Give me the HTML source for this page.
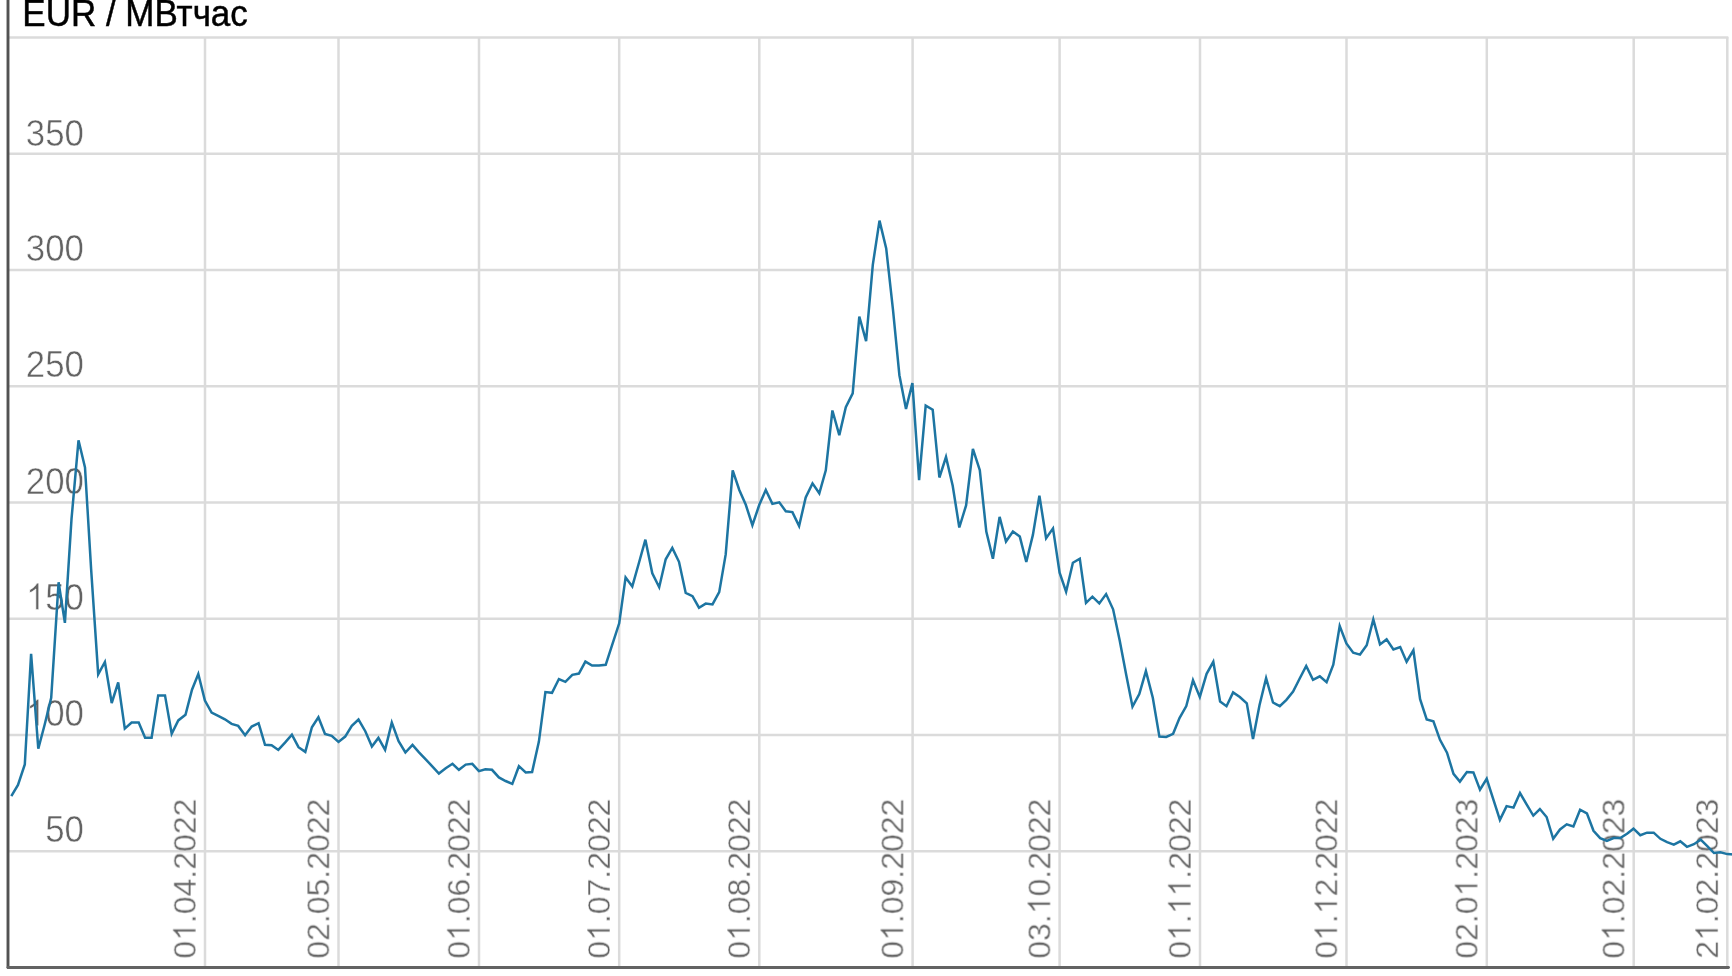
<!DOCTYPE html>
<html><head><meta charset="utf-8"><title>chart</title>
<style>
html,body{margin:0;padding:0;background:#fff;}
body{width:1732px;height:976px;overflow:hidden;}
svg{display:block;}
text{font-family:"Liberation Sans",sans-serif;}
</style></head><body>
<svg width="1732" height="976" viewBox="0 0 1732 976">
<rect width="1732" height="976" fill="#fff"/>
<g stroke="#dbdbdb" stroke-width="2.5" fill="none">
<line x1="9" y1="37.6" x2="1728.3" y2="37.6"/>
<line x1="9" y1="153.8" x2="1728.3" y2="153.8"/>
<line x1="9" y1="270.0" x2="1728.3" y2="270.0"/>
<line x1="9" y1="386.3" x2="1728.3" y2="386.3"/>
<line x1="9" y1="502.5" x2="1728.3" y2="502.5"/>
<line x1="9" y1="618.8" x2="1728.3" y2="618.8"/>
<line x1="9" y1="735.0" x2="1728.3" y2="735.0"/>
<line x1="9" y1="851.3" x2="1728.3" y2="851.3"/>
<line x1="205.0" y1="37" x2="205.0" y2="967"/>
<line x1="338.5" y1="37" x2="338.5" y2="967"/>
<line x1="479.0" y1="37" x2="479.0" y2="967"/>
<line x1="619.2" y1="37" x2="619.2" y2="967"/>
<line x1="759.3" y1="37" x2="759.3" y2="967"/>
<line x1="912.6" y1="37" x2="912.6" y2="967"/>
<line x1="1059.6" y1="37" x2="1059.6" y2="967"/>
<line x1="1200.0" y1="37" x2="1200.0" y2="967"/>
<line x1="1346.5" y1="37" x2="1346.5" y2="967"/>
<line x1="1486.8" y1="37" x2="1486.8" y2="967"/>
<line x1="1633.7" y1="37" x2="1633.7" y2="967"/>
<line x1="1727.3" y1="37" x2="1727.3" y2="967"/>
</g>
<text transform="translate(22.3,26.1) scale(1,1.04)" style="filter:grayscale(1)" font-size="35" fill="#000" stroke="#000" stroke-width="0.45" opacity="0.995">EUR / МВтчас</text>
<g font-size="37" fill="#636363" stroke="#fff" stroke-width="0.5" style="filter:grayscale(1)">
<g transform="translate(83.9,145.6) scale(0.94,1)"><text x="-61.73" y="0">350</text></g>
<g transform="translate(83.9,261.2) scale(0.94,1)"><text x="-61.73" y="0">300</text></g>
<g transform="translate(83.9,376.9) scale(0.94,1)"><text x="-61.73" y="0">250</text></g>
<g transform="translate(83.9,493.5) scale(0.94,1)"><text x="-61.73" y="0">200</text></g>
<g transform="translate(83.9,609.7) scale(0.94,1)"><path transform="translate(-61.73,0) scale(0.01807,-0.01807)" d="M763 0H583V1147Q518 1085 412.5 1023Q307 961 223 930V1104Q374 1175 487 1276Q600 1377 647 1472H763Z" vector-effect="non-scaling-stroke" stroke-width="0.80"/><text x="-41.16" y="0">50</text></g>
<g transform="translate(83.9,725.8) scale(0.94,1)"><path transform="translate(-61.73,0) scale(0.01807,-0.01807)" d="M763 0H583V1147Q518 1085 412.5 1023Q307 961 223 930V1104Q374 1175 487 1276Q600 1377 647 1472H763Z" vector-effect="non-scaling-stroke" stroke-width="0.80"/><text x="-41.16" y="0">00</text></g>
<g transform="translate(83.9,842.0) scale(0.94,1)"><text x="-41.16" y="0">50</text></g>
</g>
<g font-size="32" fill="#636363" stroke="#fff" stroke-width="0.35" opacity="0.995">
<g transform="translate(195.8,958.7) rotate(-90)"><text x="0.00" y="0">0</text><path transform="translate(17.80,0) scale(0.01562,-0.01562)" d="M763 0H583V1147Q518 1085 412.5 1023Q307 961 223 930V1104Q374 1175 487 1276Q600 1377 647 1472H763Z" vector-effect="non-scaling-stroke" stroke-width="0.65"/><text x="35.59" y="0">.04.2022</text></g>
<g transform="translate(329.3,958.7) rotate(-90)"><text x="0.00" y="0">02.05.2022</text></g>
<g transform="translate(469.8,958.7) rotate(-90)"><text x="0.00" y="0">0</text><path transform="translate(17.80,0) scale(0.01562,-0.01562)" d="M763 0H583V1147Q518 1085 412.5 1023Q307 961 223 930V1104Q374 1175 487 1276Q600 1377 647 1472H763Z" vector-effect="non-scaling-stroke" stroke-width="0.65"/><text x="35.59" y="0">.06.2022</text></g>
<g transform="translate(610.0,958.7) rotate(-90)"><text x="0.00" y="0">0</text><path transform="translate(17.80,0) scale(0.01562,-0.01562)" d="M763 0H583V1147Q518 1085 412.5 1023Q307 961 223 930V1104Q374 1175 487 1276Q600 1377 647 1472H763Z" vector-effect="non-scaling-stroke" stroke-width="0.65"/><text x="35.59" y="0">.07.2022</text></g>
<g transform="translate(750.1,958.7) rotate(-90)"><text x="0.00" y="0">0</text><path transform="translate(17.80,0) scale(0.01562,-0.01562)" d="M763 0H583V1147Q518 1085 412.5 1023Q307 961 223 930V1104Q374 1175 487 1276Q600 1377 647 1472H763Z" vector-effect="non-scaling-stroke" stroke-width="0.65"/><text x="35.59" y="0">.08.2022</text></g>
<g transform="translate(903.4,958.7) rotate(-90)"><text x="0.00" y="0">0</text><path transform="translate(17.80,0) scale(0.01562,-0.01562)" d="M763 0H583V1147Q518 1085 412.5 1023Q307 961 223 930V1104Q374 1175 487 1276Q600 1377 647 1472H763Z" vector-effect="non-scaling-stroke" stroke-width="0.65"/><text x="35.59" y="0">.09.2022</text></g>
<g transform="translate(1050.4,958.7) rotate(-90)"><text x="0.00" y="0">03.</text><path transform="translate(44.48,0) scale(0.01562,-0.01562)" d="M763 0H583V1147Q518 1085 412.5 1023Q307 961 223 930V1104Q374 1175 487 1276Q600 1377 647 1472H763Z" vector-effect="non-scaling-stroke" stroke-width="0.65"/><text x="62.28" y="0">0.2022</text></g>
<g transform="translate(1190.8,958.7) rotate(-90)"><text x="0.00" y="0">0</text><path transform="translate(17.80,0) scale(0.01562,-0.01562)" d="M763 0H583V1147Q518 1085 412.5 1023Q307 961 223 930V1104Q374 1175 487 1276Q600 1377 647 1472H763Z" vector-effect="non-scaling-stroke" stroke-width="0.65"/><text x="35.59" y="0">.</text><path transform="translate(44.48,0) scale(0.01562,-0.01562)" d="M763 0H583V1147Q518 1085 412.5 1023Q307 961 223 930V1104Q374 1175 487 1276Q600 1377 647 1472H763Z" vector-effect="non-scaling-stroke" stroke-width="0.65"/><path transform="translate(62.28,0) scale(0.01562,-0.01562)" d="M763 0H583V1147Q518 1085 412.5 1023Q307 961 223 930V1104Q374 1175 487 1276Q600 1377 647 1472H763Z" vector-effect="non-scaling-stroke" stroke-width="0.65"/><text x="80.08" y="0">.2022</text></g>
<g transform="translate(1337.3,958.7) rotate(-90)"><text x="0.00" y="0">0</text><path transform="translate(17.80,0) scale(0.01562,-0.01562)" d="M763 0H583V1147Q518 1085 412.5 1023Q307 961 223 930V1104Q374 1175 487 1276Q600 1377 647 1472H763Z" vector-effect="non-scaling-stroke" stroke-width="0.65"/><text x="35.59" y="0">.</text><path transform="translate(44.48,0) scale(0.01562,-0.01562)" d="M763 0H583V1147Q518 1085 412.5 1023Q307 961 223 930V1104Q374 1175 487 1276Q600 1377 647 1472H763Z" vector-effect="non-scaling-stroke" stroke-width="0.65"/><text x="62.28" y="0">2.2022</text></g>
<g transform="translate(1477.6,958.7) rotate(-90)"><text x="0.00" y="0">02.0</text><path transform="translate(62.28,0) scale(0.01562,-0.01562)" d="M763 0H583V1147Q518 1085 412.5 1023Q307 961 223 930V1104Q374 1175 487 1276Q600 1377 647 1472H763Z" vector-effect="non-scaling-stroke" stroke-width="0.65"/><text x="80.08" y="0">.2023</text></g>
<g transform="translate(1624.5,958.7) rotate(-90)"><text x="0.00" y="0">0</text><path transform="translate(17.80,0) scale(0.01562,-0.01562)" d="M763 0H583V1147Q518 1085 412.5 1023Q307 961 223 930V1104Q374 1175 487 1276Q600 1377 647 1472H763Z" vector-effect="non-scaling-stroke" stroke-width="0.65"/><text x="35.59" y="0">.02.2023</text></g>
<g transform="translate(1718.1,958.7) rotate(-90)"><text x="0.00" y="0">2</text><path transform="translate(17.80,0) scale(0.01562,-0.01562)" d="M763 0H583V1147Q518 1085 412.5 1023Q307 961 223 930V1104Q374 1175 487 1276Q600 1377 647 1472H763Z" vector-effect="non-scaling-stroke" stroke-width="0.65"/><text x="35.59" y="0">.02.2023</text></g>
</g>
<g stroke-width="2.9" fill="none" stroke-linecap="round">
<line x1="8.0" y1="-2" x2="8.0" y2="967.5" stroke="#525252"/>
<line x1="8.0" y1="967.5" x2="1728.5" y2="967.5" stroke="#636363"/>
</g>
<polyline fill="none" stroke="#1d75a2" stroke-width="2.5" stroke-linejoin="miter" stroke-linecap="butt" points="11.3,796.2 18.0,785.0 24.8,764.5 31.1,653.8 38.3,748.7 44.7,724.5 51.2,697.9 58.6,582.3 64.9,622.9 71.5,519.2 78.5,440.3 85.0,467.4 91.1,568.8 98.2,674.3 104.9,662.0 111.7,703.0 118.2,682.5 124.8,728.6 131.6,722.5 138.7,722.5 145.1,737.8 151.6,737.8 158.2,695.4 165.0,695.4 171.7,733.7 178.3,720.4 185.5,714.7 192.0,689.7 198.3,674.0 204.9,700.6 211.6,712.6 218.2,715.9 224.9,719.3 231.6,723.9 238.2,725.9 245.1,735.2 251.7,726.6 258.6,723.2 265.0,744.8 271.6,745.2 278.3,749.9 285.0,742.6 291.9,734.6 298.5,747.2 305.3,751.9 311.9,727.2 318.4,717.3 325.0,733.9 331.7,735.9 338.5,741.9 345.2,736.6 351.8,725.9 358.5,719.5 365.3,731.2 371.9,746.6 378.4,737.9 385.1,749.9 391.8,722.6 398.6,741.2 405.4,752.5 412.5,744.9 419.0,752.3 425.7,759.3 432.5,766.6 438.9,773.6 445.7,768.2 452.5,763.8 458.9,769.8 465.7,764.6 472.3,763.8 478.9,771.1 485.4,769.2 492.0,769.8 498.9,777.4 505.6,781.0 512.3,783.9 518.9,766.2 525.7,772.5 532.1,772.0 538.9,741.6 545.4,692.1 552.0,692.8 558.9,679.0 565.4,681.8 572.3,674.8 578.9,673.6 585.4,661.6 592.1,665.6 599.0,665.6 605.7,664.8 612.5,643.8 619.2,623.3 625.6,577.4 632.3,586.4 638.9,563.0 645.4,539.7 652.3,573.3 659.2,587.2 665.7,559.3 672.3,547.9 679.0,561.8 685.7,593.0 692.5,596.2 699.0,607.7 705.7,603.6 712.5,604.4 719.2,592.1 725.7,554.4 732.7,470.3 739.3,490.0 745.8,504.8 752.4,525.2 759.3,504.8 765.8,490.0 772.4,503.9 779.3,502.3 785.8,511.3 792.4,512.1 799.1,526.1 805.7,497.4 812.5,483.4 819.3,493.3 825.8,470.3 832.4,410.5 839.3,435.1 845.8,407.2 852.7,393.3 859.3,316.5 866.1,341.1 872.8,264.8 879.5,220.6 886.2,248.4 893.0,309.9 899.4,375.2 906.0,408.9 912.4,383.0 919.1,480.2 925.7,405.6 932.7,409.7 939.4,477.5 946.0,457.0 952.7,485.7 959.3,527.5 966.1,505.4 972.9,448.9 979.8,470.2 986.3,531.6 992.9,558.7 999.6,516.9 1006.0,541.5 1012.9,531.6 1019.8,536.6 1026.3,562.0 1032.9,534.9 1039.4,495.6 1046.1,538.2 1053.0,528.4 1059.6,572.6 1066.1,591.7 1072.9,562.8 1079.8,558.7 1086.0,602.8 1092.4,596.7 1099.3,603.4 1106.1,594.1 1113.1,609.3 1119.7,640.6 1126.2,674.8 1132.5,706.7 1139.3,694.1 1145.9,671.1 1152.8,697.8 1159.4,736.6 1166.2,736.9 1173.1,733.8 1179.5,718.1 1186.3,706.1 1193.0,680.3 1199.8,696.9 1206.6,673.8 1213.3,661.8 1220.1,701.5 1226.5,706.2 1233.1,692.4 1239.8,697.0 1246.8,703.4 1253.0,739.0 1259.5,705.3 1266.1,678.2 1273.0,702.5 1279.8,706.2 1286.4,699.8 1293.1,691.5 1299.7,678.5 1306.2,666.0 1313.0,679.8 1319.8,676.3 1326.6,682.2 1333.3,664.7 1339.7,626.0 1346.4,643.5 1353.2,652.7 1360.0,654.6 1366.7,645.3 1373.3,619.5 1380.0,644.4 1386.6,639.4 1393.4,649.4 1400.2,647.0 1406.6,661.7 1413.4,650.3 1420.1,699.2 1426.7,719.5 1433.4,721.3 1440.0,739.8 1447.0,752.7 1453.5,773.9 1459.9,781.6 1466.9,772.0 1473.4,772.4 1480.0,789.6 1486.7,778.8 1493.4,799.6 1499.9,819.9 1506.6,806.1 1513.5,807.6 1520.0,793.0 1526.6,804.4 1533.3,815.6 1539.9,809.0 1546.6,817.0 1553.2,838.8 1560.0,829.4 1566.7,824.3 1573.4,826.5 1580.1,809.7 1586.9,813.4 1593.5,830.8 1600.2,838.1 1606.9,841.0 1613.6,838.1 1620.3,838.1 1627.0,833.8 1633.5,828.7 1640.3,835.2 1647.0,832.7 1653.7,832.7 1660.4,838.8 1667.1,842.2 1673.8,844.7 1680.3,841.3 1687.0,846.8 1693.9,844.2 1700.7,839.6 1707.3,846.1 1714.0,853.0 1720.4,852.2 1727.3,854.1 1733.9,854.6"/>
</svg>
</body></html>
